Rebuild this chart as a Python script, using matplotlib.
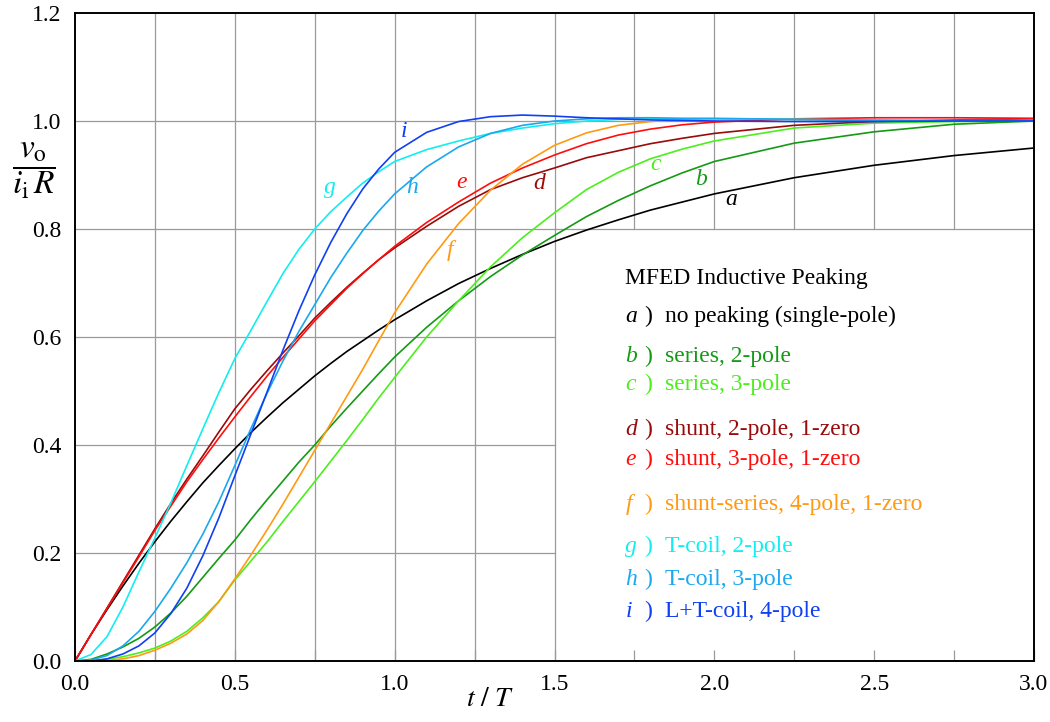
import matplotlib
matplotlib.use("Agg")
import matplotlib.pyplot as plt
import numpy as np

plt.rcParams['font.family'] = ['Liberation Serif', 'DejaVu Serif']
plt.rcParams['mathtext.fontset'] = 'stix'

# t / T sample points
t = [0, .05, .1, .15, .2, .25, .3, .35, .4, .45, .5, .55, .6, .65, .7, .75, .8, .85, .9, .95,
     1.0, 1.1, 1.2, 1.3, 1.4, 1.5, 1.6, 1.7, 1.8, 1.9, 2.0, 2.25, 2.5, 2.75, 3.0]

a = [0, .049, .095, .139, .181, .221, .259, .295, .330, .362, .393, .423, .451, .478, .503, .528, .551, .573, .593, .613,
     .632, .667, .699, .727, .753, .777, .798, .817, .835, .850, .865, .895, .918, .936, .950]
b = [0, .003, .013, .026, .042, .063, .089, .12, .155, .19, .224, .262, .298, .333, .368, .40, .435, .468, .50, .532,
     .563, .618, .667, .712, .752, .788, .823, .853, .88, .904, .925, .959, .98, .994, 1.0]
c = [0, .0005, .003, .008, .015, .024, .037, .055, .08, .11, .15, .185, .22, .258, .295, .332, .37, .408, .447, .487,
     .525, .60, .667, .73, .784, .83, .873, .905, .93, .948, .963, .987, .996, .999, 1.0]
d = [0, .049, .098, .147, .196, .245, .292, .337, .38, .424, .467, .503, .537, .57, .602, .635, .664, .692, .718, .743,
     .765, .805, .842, .873, .895, .913, .932, .945, .958, .968, .977, .992, .999, 1.002, 1.004]
e = [0, .049, .097, .145, .193, .242, .287, .332, .373, .413, .452, .49, .527, .562, .596, .63, .66, .69, .717, .743,
     .768, .812, .85, .885, .913, .937, .958, .974, .985, .993, .998, 1.004, 1.006, 1.006, 1.005]
f = [0, 0, .001, .004, .01, .02, .033, .05, .075, .11, .152, .196, .242, .29, .34, .39, .44, .49, .54, .593,
     .645, .735, .81, .872, .92, .955, .978, .992, .999, 1.003, 1.004, 1.003, 1.001, 1.0, 1.0]
g = [0, .012, .045, .1, .165, .228, .293, .362, .43, .497, .56, .612, .665, .717, .762, .80, .832, .859, .885, .906,
     .925, .947, .963, .977, .987, .995, 1.0, 1.003, 1.004, 1.004, 1.004, 1.003, 1.002, 1.001, 1.001]
h = [0, .002, .01, .028, .055, .092, .135, .182, .235, .295, .362, .43, .495, .555, .61, .66, .71, .755, .797, .833,
     .865, .915, .952, .977, .992, 1.0, 1.004, 1.006, 1.006, 1.005, 1.005, 1.003, 1.001, 1.0, 1.0]
i = [0, 0, .004, .013, .028, .052, .088, .135, .195, .265, .343, .42, .497, .575, .648, .715, .775, .828, .874, .911,
     .942, .979, .999, 1.008, 1.011, 1.009, 1.006, 1.004, 1.002, 1.001, 1.0, .999, .999, 1.0, 1.0]

curves = [a, b, c, d, e, f, g, h, i]
letters = ['a', 'b', 'c', 'd', 'e', 'f', 'g', 'h', 'i']
colors = ['#000000', '#149a14', '#4cee1c', '#990a0a', '#ff0d0d', '#ff9a12', '#12eef0', '#1aa8f0', '#1040f2']
descr = ['no peaking (single-pole)', 'series, 2-pole', 'series, 3-pole',
         'shunt, 2-pole, 1-zero', 'shunt, 3-pole, 1-zero', 'shunt-series, 4-pole, 1-zero',
         'T-coil, 2-pole', 'T-coil, 3-pole', 'L+T-coil, 4-pole']

# label spots for letters on the curves (t, v)
lab_pos = [(2.053, 0.854), (1.959, 0.891), (1.816, 0.919), (1.453, 0.885), (1.209, 0.887),
           (1.172, 0.761), (0.797, 0.876), (1.056, 0.876), (1.028, 0.98)]
# legend baselines
leg_y = [0.628, 0.554, 0.502, 0.419, 0.363, 0.280, 0.202, 0.141, 0.081]

fig = plt.figure(figsize=(10.5, 7.22), dpi=100)
ax = fig.add_axes([75/1050, 61/722, 959/1050, 648/722])
ax.set_xlim(0, 3)
ax.set_ylim(0, 1.2)

gc = '#9a9a9a'
# grid, with the lower right area left blank for the key
for x in np.arange(0.25, 1.51, 0.25):
    ax.plot([x, x], [0, 1.2], color=gc, lw=0.9, zorder=1)
for x in np.arange(1.75, 2.8, 0.25):
    ax.plot([x, x], [0.8, 1.2], color=gc, lw=0.9, zorder=1)
for y in [0.2, 0.4, 0.6]:
    ax.plot([0, 1.5], [y, y], color=gc, lw=0.9, zorder=1)
for y in [0.8, 1.0]:
    ax.plot([0, 3], [y, y], color=gc, lw=0.9, zorder=1)

for yv, col in zip(curves, colors):
    ax.plot(t, yv, color=col, lw=1.2, zorder=3)

for (lx, ly), L, col in zip(lab_pos, letters, colors):
    ax.text(lx, ly, L, color=col, fontsize=17, style='italic', ha='center', va='center', zorder=4)

ax.text(1.722, 0.698, 'MFED Inductive Peaking', fontsize=17, ha='left', va='baseline')
for yb, L, col, s in zip(leg_y, letters, colors, descr):
    ax.text(1.722, yb, L, color=col, fontsize=17, style='italic', ha='left', va='baseline')
    ax.text(1.781, yb, ')', color=col, fontsize=17, ha='left', va='baseline')
    ax.text(1.847, yb, s, color=col, fontsize=17, ha='left', va='baseline')

ax.set_xticks(np.arange(0, 3.01, 0.25))
ax.set_xticklabels(['0.0', '', '0.5', '', '1.0', '', '1.5', '', '2.0', '', '2.5', '', '3.0'])
ax.set_yticks(np.arange(0, 1.21, 0.2))
ax.set_yticklabels(['0.0', '0.2', '0.4', '0.6', '0.8', '1.0', '1.2'])
ax.tick_params(axis='x', direction='in', length=8, width=0.9, color=gc, labelsize=17, pad=9)
ax.tick_params(axis='y', length=0, labelsize=17, pad=10)
for sp in ax.spines.values():
    sp.set_linewidth(1.4)
    sp.set_zorder(5)

fig.text(490/1050, 1 - 700/722, r'$t\ /\ T$', fontsize=20, ha='center', va='center')
fig.text(34/1050, 1 - 171/722, r'$\dfrac{v_\mathrm{o}}{i_\mathrm{i}\,R}$', fontsize=24, ha='center', va='center')

fig.savefig('out.png', dpi=100)
